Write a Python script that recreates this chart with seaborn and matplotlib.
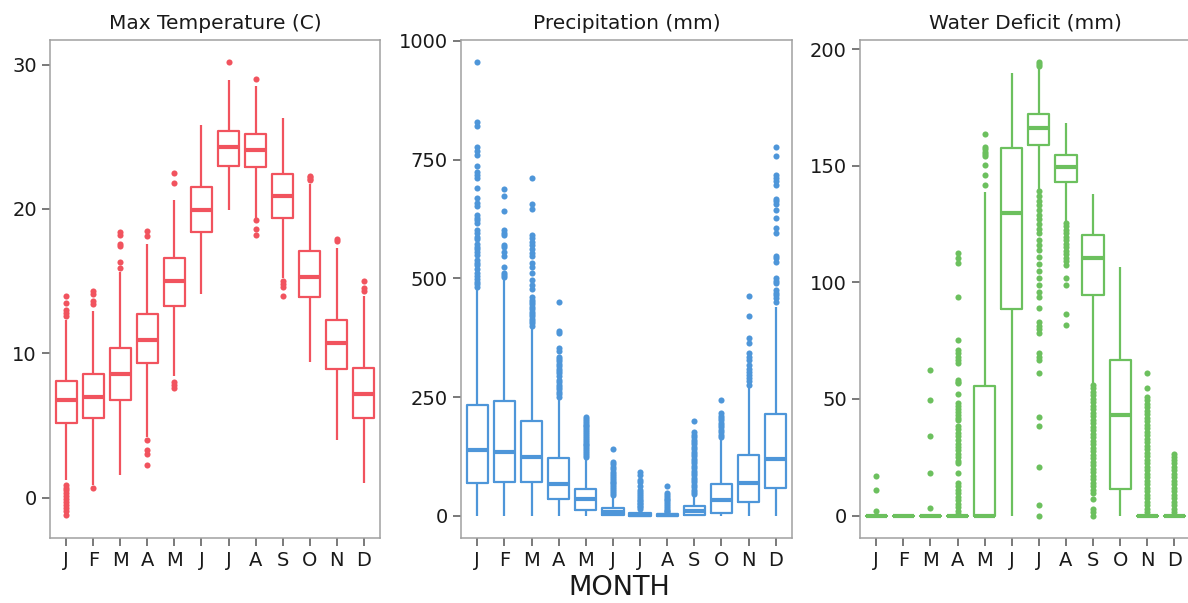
import numpy as np
import pandas as pd
import matplotlib
matplotlib.use("Agg")
import matplotlib.pyplot as plt
import seaborn as sns

# ---------------- data ----------------
month_keys = ["Jan", "Feb", "Mar", "Apr", "May", "Jun", "Jul", "Aug", "Sep", "Oct", "Nov", "Dec"]
month_labels = ["J", "F", "M", "A", "M", "J", "J", "A", "S", "O", "N", "D"]

# Max Temperature (C)
temp_q1 = [5.2, 5.5, 6.8, 9.3, 13.3, 18.4, 23.0, 22.9, 19.4, 13.9, 8.9, 5.5]
temp_med = [6.8, 7.0, 8.6, 10.9, 15.0, 19.9, 24.3, 24.1, 20.9, 15.3, 10.7, 7.2]
temp_q3 = [8.1, 8.6, 10.4, 12.7, 16.6, 21.5, 25.4, 25.2, 22.4, 17.1, 12.3, 9.0]
temp_lo = [1.2, 0.9, 1.6, 4.2, 8.4, 14.1, 19.9, 19.4, 15.2, 9.4, 4.0, 1.0]
temp_hi = [12.3, 12.9, 15.6, 17.6, 20.6, 25.8, 28.9, 28.5, 26.3, 21.7, 17.3, 14.0]
temp_out = {
    "Jan": [14.0, 13.5, 13.0, 12.8, 12.6, 0.9, 0.7, 0.5, 0.3, 0.1, -0.1, -0.3, -0.5, -0.7, -0.9, -1.2],
    "Feb": [14.3, 14.1, 13.6, 13.4, 0.7],
    "Mar": [18.4, 18.2, 17.6, 17.4, 16.3, 15.9],
    "Apr": [18.5, 18.1, 4.0, 3.3, 3.0, 2.3],
    "May": [22.5, 21.8, 8.0, 7.8, 7.6],
    "Jun": [],
    "Jul": [30.2],
    "Aug": [29.0, 19.2, 18.6, 18.2],
    "Sep": [15.0, 14.8, 14.6, 14.0],
    "Oct": [22.3, 22.2, 22.1, 22.0],
    "Nov": [17.9, 17.8],
    "Dec": [15.0, 14.5, 14.3],
}

# Precipitation (mm)
prec_q1 = [68, 70, 70, 35, 13, 1, 0, 0, 2, 6, 28, 59]
prec_med = [138, 134, 124, 66, 35, 8, 1, 0.5, 9, 32, 68, 119]
prec_q3 = [233, 242, 200, 121, 57, 17, 5, 3, 20, 66, 127, 214]
prec_lo = [0, 0, 0, 0, 0, 0, 0, 0, 0, 0, 0, 0]
prec_hi = [475, 497, 395, 244, 121, 38, 12, 7, 40, 160, 275, 440]
prec_out = {
    "Jan": [955, 830, 821, 776, 768, 760, 737, 725, 718, 712, 690, 669, 658, 652, 633, 628, 622, 617,
            602, 596, 588, 582, 572, 567, 561, 556, 549, 539, 533, 528, 519, 511, 504, 498, 493, 488, 482],
    "Feb": [688, 673, 641, 601, 596, 591, 570, 565, 555, 548, 523, 511, 508, 503],
    "Mar": [711, 657, 645, 591, 584, 577, 570, 561, 554, 547, 533, 524, 511, 497, 486, 477, 461, 455,
            450, 445, 440, 435, 430, 425, 420, 415, 410, 405, 400],
    "Apr": [451, 390, 384, 353, 346, 335, 330, 325, 320, 315, 310, 305, 300, 295, 286, 281, 276, 271,
            266, 261, 256, 251],
    "May": [208, 204, 200, 196, 192, 188, 184, 180, 176, 172, 168, 164, 160, 156, 152, 148, 144, 140,
            136, 132, 128, 124],
    "Jun": [140, 113, 108, 103, 99, 92, 88, 84, 80, 76, 72, 68, 64, 60, 56, 52, 48, 44],
    "Jul": [92, 85, 75, 70, 62, 55, 50, 46, 42, 38, 34, 30, 27, 24, 21, 18, 15],
    "Aug": [63, 48, 44, 40, 36, 32, 28, 24, 20, 16, 13, 10, 8],
    "Sep": [200, 177, 170, 165, 160, 155, 150, 145, 140, 135, 130, 125, 120, 115, 110, 105, 100, 95,
            90, 85, 80, 75, 70, 65, 60, 55, 50, 45],
    "Oct": [244, 216, 211, 206, 201, 196, 191, 186, 181, 176, 171, 166],
    "Nov": [463, 421, 374, 364, 342, 335, 328, 317, 310, 303, 296, 290, 283, 276],
    "Dec": [776, 758, 717, 711, 704, 697, 667, 662, 657, 643, 628, 605, 596, 547, 542, 535, 500, 495,
            491, 475, 470, 465, 458, 451],
}

# Water Deficit (mm)
wd_q1 = [0, 0, 0, 0, 0, 88.6, 158.9, 142.9, 94.6, 11.3, 0, 0]
wd_med = [0, 0, 0, 0, 0, 129.6, 166.0, 149.3, 110.3, 43.2, 0, 0]
wd_q3 = [0, 0, 0, 0, 55.6, 157.7, 172.1, 154.6, 120.3, 66.7, 0, 0]
wd_lo = [0, 0, 0, 0, 0, 0, 139.6, 126.0, 56.7, 0, 0, 0]
wd_hi = [0, 0, 0, 0, 138.6, 189.6, 191.5, 168.4, 137.7, 106.7, 0, 0]
wd_out = {
    "Jan": [17.0, 11.0, 2.1],
    "Feb": [],
    "Mar": [62.4, 49.6, 34.2, 18.2, 3.2],
    "Apr": [112.7, 110.3, 108.4, 93.6, 75.3, 71.0, 69.5, 68.0, 66.5, 65.3, 58.1, 57.4, 56.7, 52.0,
            48.2, 47.0, 45.8, 44.5, 43.2, 42.0, 41.0, 38.5, 37.0, 35.5, 34.0, 32.4, 30.9, 29.5, 28.0,
            26.5, 25.0, 23.6, 22.4, 18.4, 14.0, 12.5, 11.0, 9.5, 8.0, 6.5, 5.0, 3.5, 2.0, 0.9],
    "May": [163.6, 158.0, 157.0, 156.0, 155.0, 154.0, 150.2, 146.2, 141.9],
    "Jun": [],
    "Jul": [194.5, 193.5, 192.6, 139.0, 137.0, 135.0, 133.0, 131.0, 129.0, 127.0, 125.0, 123.0, 121.0,
            118.0, 116.0, 114.0, 111.0, 108.0, 105.0, 102.0, 99.0, 96.0, 93.6, 88.9, 83.1, 81.5, 79.8,
            78.2, 69.6, 68.0, 66.7, 61.3, 42.4, 38.4, 20.7, 4.6, 0.0],
    "Aug": [125.5, 124.0, 122.5, 121.0, 119.5, 118.0, 116.5, 115.0, 113.5, 112.0, 110.5, 109.0, 107.5,
            101.7, 98.9, 86.4, 81.7],
    "Sep": [56.0, 54.5, 53.0, 51.5, 50.0, 48.5, 47.0, 45.5, 44.0, 42.5, 41.0, 39.5, 38.0, 36.5, 35.0,
            33.5, 32.0, 30.5, 29.0, 27.5, 26.0, 24.5, 23.0, 21.5, 20.0, 18.5, 17.0, 15.5, 14.0, 12.5,
            11.0, 9.5, 7.0, 3.0, 1.5, 0.0],
    "Oct": [],
    "Nov": [61.3, 54.6, 51.0, 49.5, 48.0, 46.5, 45.0, 43.5, 42.0, 40.5, 39.0, 37.5, 36.0, 34.5, 33.0,
            31.5, 30.0, 28.5, 27.0, 25.5, 24.0, 22.5, 21.0, 19.5, 18.0, 16.5, 15.0, 13.5, 12.0, 10.5,
            9.0, 7.5, 6.0, 4.5, 3.0, 1.5],
    "Dec": [26.3, 25.0, 23.8, 22.5, 21.0, 19.5, 18.0, 16.5, 15.0, 13.5, 12.0, 10.5, 9.0, 7.5, 6.0,
            4.5, 3.0, 1.5],
}

titles = ["Max Temperature (C)", "Precipitation (mm)", "Water Deficit (mm)"]
colors = ["#F1535E", "#4E96D9", "#6CC05E"]
yticks = [[0, 10, 20, 30], [0, 250, 500, 750, 1000], [0, 50, 100, 150, 200]]
ylims = [(-2.79, 31.7), (-47, 1002), (-9.6, 203.9)]

panels = [
    (temp_lo, temp_q1, temp_med, temp_q3, temp_hi, temp_out),
    (prec_lo, prec_q1, prec_med, prec_q3, prec_hi, prec_out),
    (wd_lo, wd_q1, wd_med, wd_q3, wd_hi, wd_out),
]

# ---------------- style ----------------
sns.set_theme(style="ticks")
plt.rcParams["font.family"] = ["DejaVu Sans"]
spine_col = "#A0A0A0"
text_col = "#1A1A1A"

W, H = 1188, 603
fig = plt.figure(figsize=(W / 100, H / 100), dpi=100)

# axes rectangles in pixels (left, right); top/bottom shared
lefts = [50, 461, 860]
rights = [380, 792, 1190.6]
top, bottom = 40, 538

for i, (lo, q1, med, q3, hi, out) in enumerate(panels):
    l, r = lefts[i], rights[i]
    ax = fig.add_axes([l / W, (H - bottom) / H, (r - l) / W, (bottom - top) / H])
    # five-number summaries per month -> box data
    rows = []
    for k, m in enumerate(month_keys):
        for v in (lo[k], q1[k], med[k], q3[k], hi[k]):
            rows.append((m, v))
    box_df = pd.DataFrame(rows, columns=["month", "value"])
    out_rows = [(m, v) for m in month_keys for v in out[m]]
    out_df = pd.DataFrame(out_rows, columns=["month", "value"])

    c = colors[i]
    sns.boxplot(data=box_df, x="month", y="value", order=month_keys, ax=ax,
                whis=(0, 100), showfliers=False, fill=False, color=c,
                width=0.78, linewidth=1.6, showcaps=False,
                medianprops={"linewidth": 3.0})
    sns.stripplot(data=out_df, x="month", y="value", order=month_keys, ax=ax,
                  jitter=False, color=c, size=4.4, linewidth=0, zorder=3)

    ax.set_xlim(-0.6, 11.6)
    ax.set_ylim(*ylims[i])
    ax.set_yticks(yticks[i])
    ax.set_yticklabels([str(t) for t in yticks[i]])
    ax.set_xticks(range(12))
    ax.set_xticklabels(month_labels)
    ax.set_xlabel("")
    ax.set_ylabel("")
    ax.set_title(titles[i], fontsize=14.5, color=text_col, pad=8)
    for s in ax.spines.values():
        s.set_visible(True)
        s.set_color(spine_col)
        s.set_linewidth(1.1)
    ax.tick_params(axis="both", direction="out", length=5.5, width=1.1,
                   color="#555555", labelsize=14, labelcolor=text_col, pad=4)
    ax.grid(False)
    ax.set_facecolor("white")

fig.text(619 / W, 1 - 588 / H, "MONTH", ha="center", va="center",
         fontsize=19.5, color=text_col)

fig.savefig("out.png", dpi=100, facecolor="white")
